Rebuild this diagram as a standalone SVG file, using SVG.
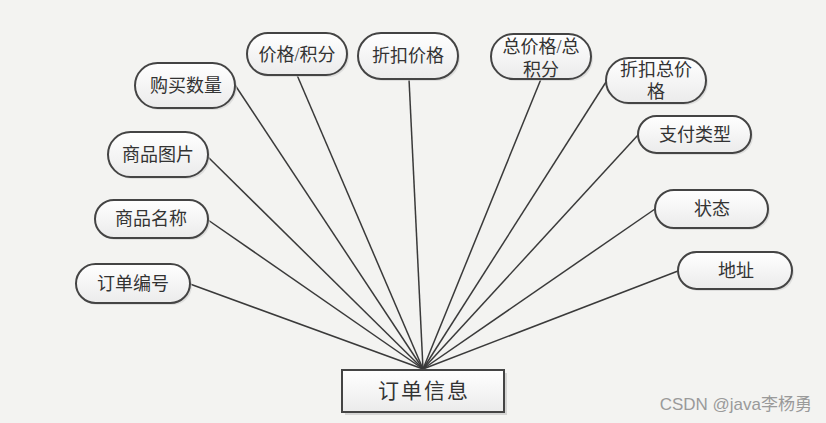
<svg xmlns="http://www.w3.org/2000/svg" width="826" height="423" viewBox="0 0 826 423">
<defs>
<linearGradient id="g" x1="0" y1="0" x2="0" y2="1">
<stop offset="0" stop-color="#ffffff"/>
<stop offset="1" stop-color="#ebebeb"/>
</linearGradient>
<style>
.sh{fill:#cfcfcf;opacity:0.6}
.pill{fill:url(#g);stroke:#444;stroke-width:2}
.t{font-family:"Liberation Serif","Noto Sans CJK SC",serif;font-size:18px;fill:#333;text-anchor:middle}
.c line{stroke:#3a3a3a;stroke-width:1.5}
</style>
</defs>
<rect width="826" height="423" fill="#f3f3f1"/>
<g id="connectors" class="c">
<line x1="190" y1="284" x2="423" y2="369"/>
<line x1="208" y1="220" x2="423" y2="369"/>
<line x1="208" y1="157" x2="423" y2="369"/>
<line x1="235" y1="85" x2="423" y2="369"/>
<line x1="297" y1="75" x2="423" y2="369"/>
<line x1="409" y1="79" x2="423" y2="369"/>
<line x1="541" y1="79" x2="423" y2="369"/>
<line x1="606" y1="82" x2="423" y2="369"/>
<line x1="638" y1="135" x2="423" y2="369"/>
<line x1="655" y1="209" x2="423" y2="369"/>
<line x1="678" y1="271" x2="423" y2="369"/>
</g>
<g id="n-dingdanbianhao">
<rect class="sh" x="78" y="266" width="114" height="39" rx="19.5"/>
<rect class="pill" x="76" y="264" width="114" height="39" rx="19.5"/>
<text class="t" x="133" y="290">订单编号</text>
</g>
<g id="n-shangpinmingcheng">
<rect class="sh" x="97" y="202" width="113" height="38" rx="19"/>
<rect class="pill" x="95" y="200" width="113" height="38" rx="19"/>
<text class="t" x="151" y="225">商品名称</text>
</g>
<g id="n-shangpintupian">
<rect class="sh" x="110" y="134" width="100" height="45" rx="22.5"/>
<rect class="pill" x="108" y="132" width="100" height="45" rx="22.5"/>
<text class="t" x="158" y="161">商品图片</text>
</g>
<g id="n-goumaishuliang">
<rect class="sh" x="137" y="65" width="100" height="45" rx="22.5"/>
<rect class="pill" x="135" y="63" width="100" height="45" rx="22.5"/>
<text class="t" x="186" y="92">购买数量</text>
</g>
<g id="n-jiagejifen">
<rect class="sh" x="249" y="35" width="100" height="42" rx="21"/>
<rect class="pill" x="247" y="33" width="100" height="42" rx="21"/>
<text class="t" x="297" y="61">价格/积分</text>
</g>
<g id="n-zhekoujiage">
<rect class="sh" x="360" y="35" width="100" height="46" rx="23"/>
<rect class="pill" x="358" y="33" width="100" height="46" rx="23"/>
<text class="t" x="408" y="62">折扣价格</text>
</g>
<g id="n-zongjiage">
<rect class="sh" x="493" y="36" width="100" height="45" rx="22.5"/>
<rect class="pill" x="491" y="34" width="100" height="45" rx="22.5"/>
<text class="t" x="541" y="53">总价格/总</text>
<text class="t" x="541" y="76">积分</text>
</g>
<g id="n-zhekouzongjiage">
<rect class="sh" x="608" y="60" width="100" height="45" rx="22.5"/>
<rect class="pill" x="606" y="58" width="100" height="45" rx="22.5"/>
<text class="t" x="656" y="76">折扣总价</text>
<text class="t" x="656" y="98">格</text>
</g>
<g id="n-zhifuleixing">
<rect class="sh" x="640" y="118" width="113" height="37" rx="18.5"/>
<rect class="pill" x="638" y="116" width="113" height="37" rx="18.5"/>
<text class="t" x="695" y="141">支付类型</text>
</g>
<g id="n-zhuangtai">
<rect class="sh" x="657" y="192" width="113" height="38" rx="19"/>
<rect class="pill" x="655" y="190" width="113" height="38" rx="19"/>
<text class="t" x="712" y="215">状态</text>
</g>
<g id="n-dizhi">
<rect class="sh" x="680" y="254" width="114" height="37" rx="18.5"/>
<rect class="pill" x="678" y="252" width="114" height="37" rx="18.5"/>
<text class="t" x="736" y="277">地址</text>
</g>
<g id="n-dingdanxinxi">
<rect x="345" y="373" width="162" height="42" fill="#c8c8c8" opacity="0.7"/>
<rect x="342" y="370" width="162" height="42" fill="url(#g)" stroke="#444" stroke-width="2"/>
<text x="424" y="398" font-family="Liberation Serif,'Noto Sans CJK SC',serif" font-size="21" letter-spacing="2" fill="#333" text-anchor="middle">订单信息</text>
</g>
<text x="812" y="410" font-family="'Liberation Sans','Noto Sans CJK SC',sans-serif" font-size="17" fill="#9a9a9a" text-anchor="end">CSDN @java李杨勇</text>
</svg>
